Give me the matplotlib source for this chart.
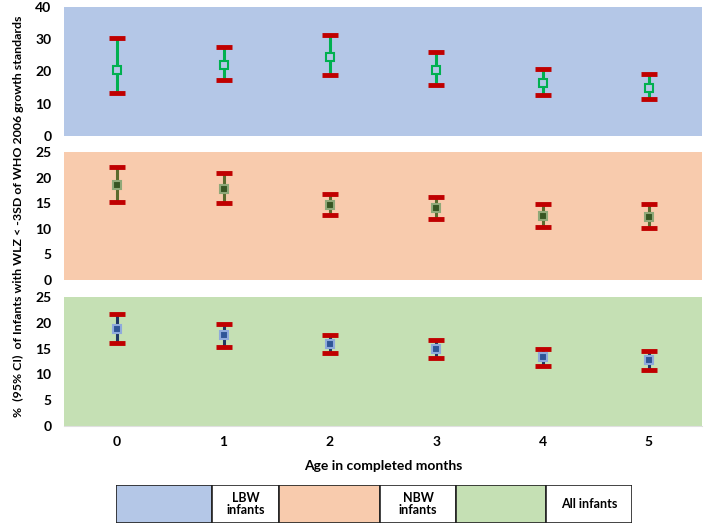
import numpy as np
import matplotlib.pyplot as plt
from matplotlib.patches import Rectangle

plt.rcParams['font.family'] = ['Lato', 'DejaVu Sans']
plt.rcParams['font.weight'] = 'bold'

months = [0, 1, 2, 3, 4, 5]

# LBW infants
lbw_pct = [20.6, 22.0, 24.6, 20.5, 16.3, 14.8]
lbw_low = [13.3, 17.5, 18.9, 15.9, 12.8, 11.5]
lbw_high = [30.4, 27.5, 31.4, 26.2, 20.7, 19.1]

# NBW infants
nbw_pct = [18.5, 17.8, 14.7, 14.0, 12.5, 12.3]
nbw_low = [15.3, 15.0, 12.7, 12.0, 10.4, 10.1]
nbw_high = [22.1, 20.9, 16.8, 16.2, 14.9, 14.9]

# All infants
all_pct = [18.8, 17.6, 15.8, 14.9, 13.3, 12.7]
all_low = [16.1, 15.4, 14.1, 13.2, 11.7, 10.9]
all_high = [21.7, 19.8, 17.7, 16.6, 15.0, 14.5]

legend_labels = ['LBW\ninfants', 'NBW\ninfants', 'All infants']

panels = [
    # (pct, low, high, bg, line, marker face, marker edge, ymax, step)
    (lbw_pct, lbw_low, lbw_high, '#B4C7E7', '#00B050', '#B4C7E7', '#00B050', 40, 10),
    (nbw_pct, nbw_low, nbw_high, '#F8CBAD', '#5B6B2E', '#375623', '#8FA878', 25, 5),
    (all_pct, all_low, all_high, '#C5E0B4', '#203864', '#2F5597', '#8FAADC', 25, 5),
]

W, H = 709, 526
fig = plt.figure(figsize=(W / 100, H / 100), dpi=100)

boxes = [(7, 136), (152, 280), (297, 426)]
left, right = 64, 702
red = '#C00000'

axes = []
for (top, bot), (pct, low, high, bg, lc, mfc, mec, ymax, step) in zip(boxes, panels):
    ax = fig.add_axes([left / W, 1 - bot / H, (right - left) / W, (bot - top) / H])
    ax.set_facecolor(bg)
    x = np.array(months)
    pct = np.array(pct)
    low = np.array(low)
    high = np.array(high)
    ax.errorbar(x, pct, yerr=[pct - low, high - pct], fmt='none', ecolor=lc,
                elinewidth=2.2, capsize=0, zorder=2)
    ax.plot(x, low, linestyle='none', marker='_', markersize=11, mew=3.5, color=red, zorder=3)
    ax.plot(x, high, linestyle='none', marker='_', markersize=11, mew=3.5, color=red, zorder=3)
    ax.plot(x, pct, linestyle='none', marker='s', markersize=5.5, mfc=mfc, mec=mec,
            mew=1.5, zorder=4)
    ax.set_xlim(-0.5, 5.5)
    ax.set_ylim(0, ymax)
    ax.set_yticks(np.arange(0, ymax + 1, step))
    ax.tick_params(axis='y', length=0, labelsize=10, pad=9)
    ax.tick_params(axis='x', length=0)
    for s in ax.spines.values():
        s.set_visible(False)
    for lab in ax.get_yticklabels():
        lab.set_fontweight('bold')
    axes.append(ax)

for ax in axes[:2]:
    ax.set_xticks([])

ax3 = axes[2]
ax3.spines['bottom'].set_visible(True)
ax3.spines['bottom'].set_color('#E0E0E0')
ax3.set_xticks(months)
ax3.set_xticklabels([str(m) for m in months], fontsize=10, fontweight='bold')
ax3.tick_params(axis='x', pad=7)
ax3.set_xlabel('Age in completed months', fontsize=10, fontweight='bold', labelpad=9)

fig.text(18 / W, 1 - 216 / H,
         '%  (95% CI)  of Infants with WLZ < -3SD of WHO 2006 growth standards',
         rotation=90, ha='center', va='center', fontsize=8.9, fontweight='bold')

# legend table
lg_left, lg_right, lg_top, lg_bot = 116, 632, 485, 523
lax = fig.add_axes([lg_left / W, 1 - lg_bot / H, (lg_right - lg_left) / W, (lg_bot - lg_top) / H])
lax.set_xlim(lg_left, lg_right)
lax.set_ylim(0, 1)
lax.axis('off')
edges = [116, 212, 279, 380, 456, 546, 632]
fills = [panels[0][3], 'white', panels[1][3], 'white', panels[2][3], 'white']
for i, fc in enumerate(fills):
    lax.add_patch(Rectangle((edges[i], 0), edges[i + 1] - edges[i], 1, facecolor=fc,
                            edgecolor='#222222', lw=1.2))
for i, lab in enumerate(legend_labels):
    cx = (edges[2 * i + 1] + edges[2 * i + 2]) / 2
    lax.text(cx, 0.5, lab, ha='center', va='center', fontsize=9, fontweight='bold',
             linespacing=1.1)

fig.savefig('out.png', dpi=100)
